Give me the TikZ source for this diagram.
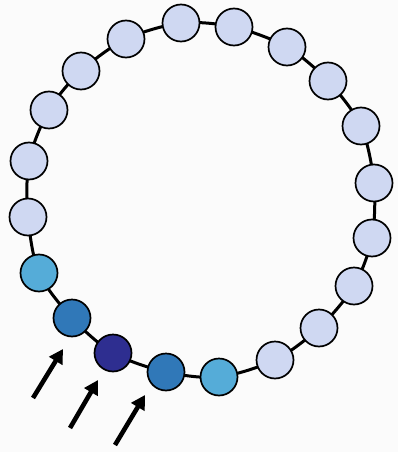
\documentclass[tikz,border=0pt]{standalone}
\usetikzlibrary{arrows.meta}
\definecolor{pale}{HTML}{CFD8F2}
\definecolor{lblue}{HTML}{55ACD8}
\definecolor{mblue}{HTML}{3078B8}
\definecolor{navy}{HTML}{2E2E90}
\definecolor{bg}{HTML}{FBFBFB}
\tikzset{
  bead/.style={circle, draw=black, line width=1.7pt, minimum size=37pt, inner sep=0pt, fill=pale},
  link/.style={line width=3pt, black},
  pointer/.style={line width=4.6pt, -{Triangle[length=14pt,width=15pt]}, black}
}
\begin{document}
\begin{tikzpicture}[x=1pt,y=-1pt]
\fill[bg] (0,0) rectangle (398,452);
\useasboundingbox (0,0) rectangle (398,452);
\foreach \n/\x/\y in {1/181/23, 2/234/27, 3/287/47, 4/328/81, 5/361/126, 6/374/183, 7/372/238, 8/354/286, 9/319/328, 10/275/360, 20/126/39, 19/81/71, 18/49/110, 17/29/161, 16/28/217}
  \coordinate (p\n) at (\x,\y);
\coordinate (p11) at (219,377);
\coordinate (p12) at (166,372);
\coordinate (p13) at (113,353);
\coordinate (p14) at (72,318);
\coordinate (p15) at (39,273);
\draw[link] plot[smooth cycle, tension=0.5] coordinates {(p1) (p2) (p3) (p4) (p5) (p6) (p7) (p8) (p9) (p10) (p11) (p12) (p13) (p14) (p15) (p16) (p17) (p18) (p19) (p20)};
\foreach \n in {1,...,10,16,17,18,19,20}
  \node[bead] (b\n) at (p\n) {};
\node[bead, fill=lblue] (b11) at (p11) {};
\node[bead, fill=mblue] (b12) at (p12) {};
\node[bead, fill=navy] (b13) at (p13) {};
\node[bead, fill=mblue] (b14) at (p14) {};
\node[bead, fill=lblue] (b15) at (p15) {};
\coordinate (a1s) at (33,398);
\coordinate (a1e) at (63,349);
\coordinate (a2s) at (70,428);
\coordinate (a2e) at (98,380);
\coordinate (a3s) at (115,445);
\coordinate (a3e) at (145,395);
\draw[pointer] (a1s) -- (a1e);
\draw[pointer] (a2s) -- (a2e);
\draw[pointer] (a3s) -- (a3e);
\end{tikzpicture}
\end{document}
